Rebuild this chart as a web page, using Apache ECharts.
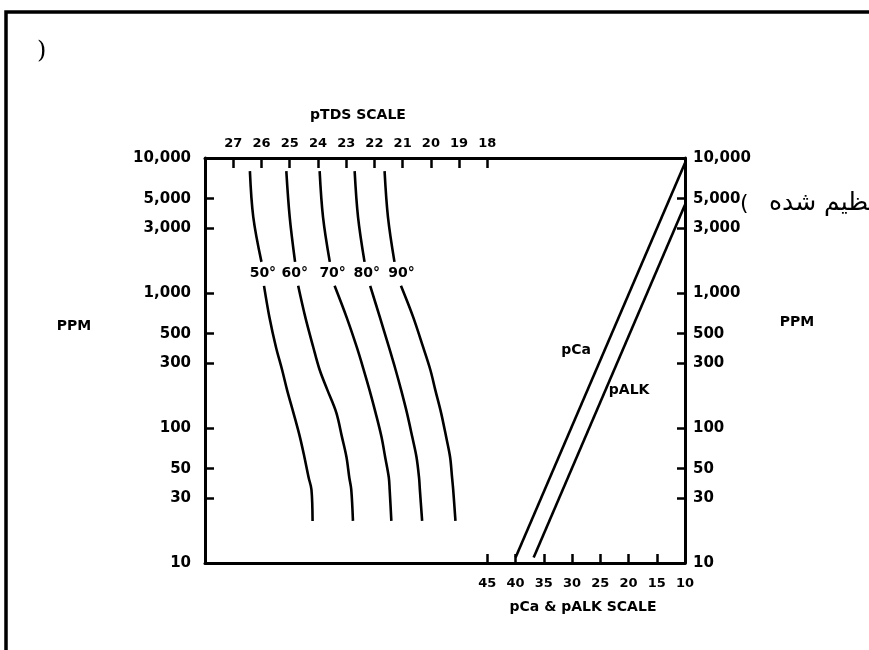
<!DOCTYPE html>
<html><head><meta charset="utf-8">
<script src="https://cdn.jsdelivr.net/npm/echarts@6/dist/echarts.min.js"></script>
<style>html,body{margin:0;padding:0;background:#fff}#c{width:869px;height:650px}</style>
</head><body><div id="c"></div>
<script>
// tick labels
const ppmTicks = [10, 30, 50, 100, 300, 500, 1000, 3000, 5000, 10000];
const pTdsTicks = [27, 26, 25, 24, 23, 22, 21, 20, 19, 18];
const pCaTicks = [45, 40, 35, 30, 25, 20, 15, 10];

// temperature curves: PPM levels (upper part above label gap, lower part below)
const curvePpmUpper = [8000, 3650, 1700];
const curvePpmLower = [1130, 665, 400, 270, 190, 130, 86, 61, 43, 35, 20.5];
// pTDS-scale positions of each curve at those levels
const curve50Upper = [26.41, 26.29, 26.00];
const curve50Lower = [25.91, 25.72, 25.49, 25.27, 25.09, 24.87, 24.64, 24.48, 24.33, 24.23, 24.19];
const curve60Upper = [25.12, 25.00, 24.81];
const curve60Lower = [24.70, 24.45, 24.17, 23.94, 23.66, 23.35, 23.15, 22.99, 22.89, 22.82, 22.76];
const curve70Upper = [23.94, 23.82, 23.58];
const curve70Lower = [23.41, 22.99, 22.63, 22.38, 22.17, 21.96, 21.75, 21.62, 21.49, 21.46, 21.40];
const curve80Upper = [22.70, 22.58, 22.35];
const curve80Lower = [22.15, 21.81, 21.49, 21.25, 21.05, 20.85, 20.66, 20.51, 20.42, 20.39, 20.31];
const curve90Upper = [21.64, 21.52, 21.29];
const curve90Lower = [21.06, 20.63, 20.28, 20.02, 19.84, 19.64, 19.46, 19.32, 19.25, 19.21, 19.13];
const curveNames = ['50°', '60°', '70°', '80°', '90°'];
const curveLabelPTds = [25.95, 24.82, 23.48, 22.27, 21.04];
const curveLabelPpm = 1400;

// pCa & pALK lines (pCa/pALK scale, PPM)
const pCaScale = [40, 10];
const pCaPpm = [11, 9200];
const pAlkScale = [36.8, 10];
const pAlkPpm = [11, 4500];
const lineLabelNames = ['pCa', 'pALK'];
const lineLabelScale = [29.3, 19.9];
const lineLabelPpm = [379, 191];

const upperX = [curve50Upper, curve60Upper, curve70Upper, curve80Upper, curve90Upper];
const lowerX = [curve50Lower, curve60Lower, curve70Lower, curve80Lower, curve90Lower];

const chart = echarts.init(document.getElementById('c'), null, {renderer: 'canvas'});
const FONT = 'DejaVu Sans';
const lineStyle = {color: '#000', width: 2.6};
const labelStyle = {show: true, position: 'inside', formatter: p => p.name, color: '#000',
  opacity: 1, fontFamily: FONT, fontWeight: 'bold', fontSize: 14};
const series = [];
for (let k = 0; k < 5; k++) {
  series.push({type: 'line', xAxisIndex: 1, yAxisIndex: 0, symbol: 'none', smooth: 0.35,
    lineStyle, data: upperX[k].map((x, i) => [x, curvePpmUpper[i]])});
  series.push({type: 'line', xAxisIndex: 1, yAxisIndex: 0, symbol: 'none', smooth: 0.35,
    lineStyle, data: lowerX[k].map((x, i) => [x, curvePpmLower[i]])});
}
series.push({type: 'scatter', xAxisIndex: 1, yAxisIndex: 0, symbolSize: 1,
  itemStyle: {opacity: 1, color: 'rgba(0,0,0,0)'}, label: labelStyle,
  data: curveNames.map((n, i) => ({name: n, value: [curveLabelPTds[i], curveLabelPpm]}))});
series.push({type: 'line', xAxisIndex: 0, yAxisIndex: 0, symbol: 'none', lineStyle,
  data: pCaScale.map((x, i) => [x, pCaPpm[i]])});
series.push({type: 'line', xAxisIndex: 0, yAxisIndex: 0, symbol: 'none', lineStyle,
  data: pAlkScale.map((x, i) => [x, pAlkPpm[i]])});
series.push({type: 'scatter', xAxisIndex: 0, yAxisIndex: 0, symbolSize: 1,
  itemStyle: {opacity: 1, color: 'rgba(0,0,0,0)'}, label: labelStyle,
  data: lineLabelNames.map((n, i) => ({name: n, value: [lineLabelScale[i], lineLabelPpm[i]]}))});

const axisLine = {show: true, lineStyle: {color: '#000', width: 3}};
const tickStyle = {color: '#000', width: 2.5};
const xLabel = {color: '#000', fontFamily: FONT, fontWeight: 'bold', fontSize: 13};
const yLabel = {color: '#000', fontFamily: FONT, fontWeight: 'bold', fontSize: 15,
  formatter: v => Math.round(v).toLocaleString('en-US')};

chart.setOption({
  animation: false,
  backgroundColor: '#fff',
  grid: {left: 205, top: 158, width: 480, height: 405, containLabel: false},
  xAxis: [
    {type: 'value', position: 'bottom', min: 10, max: 95, inverse: true,
      axisLine, splitLine: {show: false},
      axisTick: {show: true, inside: true, length: 9, lineStyle: tickStyle, customValues: pCaTicks},
      axisLabel: Object.assign({margin: 14, customValues: pCaTicks}, xLabel)},
    {type: 'value', position: 'top', min: 11, max: 28, inverse: true,
      axisLine, splitLine: {show: false},
      axisTick: {show: true, inside: true, length: 10, lineStyle: tickStyle, customValues: pTdsTicks},
      axisLabel: Object.assign({margin: 8, customValues: pTdsTicks}, xLabel)}
  ],
  yAxis: [
    {type: 'log', logBase: 10, position: 'left', min: 10, max: 10000,
      axisLine, splitLine: {show: false}, minorTick: {show: false},
      axisTick: {show: true, inside: true, length: 9, lineStyle: tickStyle, customValues: ppmTicks},
      axisLabel: Object.assign({margin: 14, customValues: ppmTicks}, yLabel)},
    {type: 'log', logBase: 10, position: 'right', min: 10, max: 10000,
      axisLine, splitLine: {show: false}, minorTick: {show: false},
      axisTick: {show: true, inside: true, length: 8, lineStyle: tickStyle, customValues: ppmTicks},
      axisLabel: Object.assign({margin: 8, customValues: ppmTicks}, yLabel)}
  ],
  series,
  graphic: [
    {type: 'rect', shape: {x: 6, y: 12, width: 1000, height: 1000},
      style: {fill: 'none', stroke: '#000', lineWidth: 3.5}},
    {type: 'text', x: 37, y: 52, style: {text: ')', font: '24px "DejaVu Serif"', fill: '#000',
      textAlign: 'left', textVerticalAlign: 'middle'}},
    {type: 'text', x: 740, y: 204, style: {text: '(', font: '22px "DejaVu Sans"', fill: '#000',
      textAlign: 'left', textVerticalAlign: 'middle'}},
    {type: 'text', x: 769, y: 203, style: {text: 'تنظیم شده', font: '25px "DejaVu Sans"', fill: '#000',
      textAlign: 'left', textVerticalAlign: 'middle'}},
    {type: 'text', x: 358, y: 115, style: {text: 'pTDS SCALE', font: 'bold 14px "DejaVu Sans"', fill: '#000',
      textAlign: 'center', textVerticalAlign: 'middle'}},
    {type: 'text', x: 583, y: 607, style: {text: 'pCa & pALK SCALE', font: 'bold 14px "DejaVu Sans"', fill: '#000',
      textAlign: 'center', textVerticalAlign: 'middle'}},
    {type: 'text', x: 74, y: 326, style: {text: 'PPM', font: 'bold 14px "DejaVu Sans"', fill: '#000',
      textAlign: 'center', textVerticalAlign: 'middle'}},
    {type: 'text', x: 797, y: 322, style: {text: 'PPM', font: 'bold 14px "DejaVu Sans"', fill: '#000',
      textAlign: 'center', textVerticalAlign: 'middle'}}
  ]
});
</script></body></html>
